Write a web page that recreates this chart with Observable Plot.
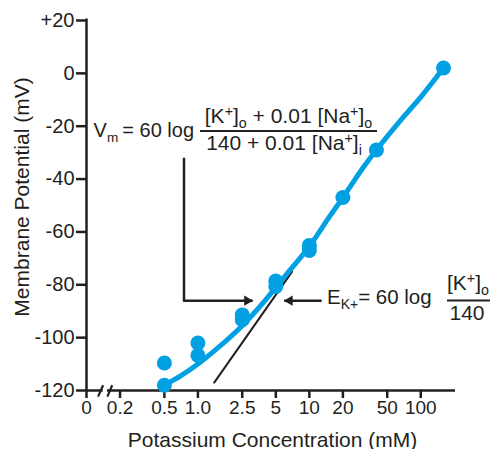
<!DOCTYPE html>
<html><head><meta charset="utf-8">
<script src="https://cdn.jsdelivr.net/npm/d3@7"></script>
<script src="https://cdn.jsdelivr.net/npm/@observablehq/plot@0.6"></script>
<style>
body{margin:0;background:#fff;}
svg text{font-family:"Liberation Sans",Arial,sans-serif;}
</style></head><body><div id="chart"></div>
<script>
// Measured points: potassium concentration (mM) and membrane potential (mV)
const obsK = [0.5, 0.5, 1, 1, 2.5, 2.5, 5, 5, 10, 10, 20, 40, 160];
const obsV = [-109.6, -118, -102, -106.7, -91.4, -93.2, -78.6, -80.6, -65.1, -67, -47, -29, 2];
// Goldman (fitted) curve
const fitK = [0.5, 0.7, 1, 1.5, 2.5, 4, 5, 7, 10, 15, 20, 30, 40, 70, 100, 160];
const fitV = [-118, -114.5, -110, -104, -95.5, -86, -81, -73.5, -65.5, -54.5, -47, -36, -29, -16.5, -9, 2];
// Nernst (E_K) line, visible part
const ekK = [1.4, 7];
const ekV = [-117, -75];
// Axis ticks
const xTicks = [0.1, 0.2, 0.5, 1, 2.5, 5, 10, 20, 50, 100];
const xTickLabels = ["0", "0.2", "0.5", "1.0", "2.5", "5", "10", "20", "50", "100"];
const yTicks = [20, 0, -20, -40, -60, -80, -100, -120];
const yTickLabels = ["+20", "0", "-20", "-40", "-60", "-80", "-100", "-120"];
// Annotation arrows (data units)
const vmArrowPath = [{k: 0.75, v: -32.3}, {k: 0.75, v: -86}];
const arrows = [{k1: 0.75, k2: 3.1, v: -86, dir: 1}, {k1: 12.9, k2: 5.95, v: -86, dir: -1}];
const breakMarks = [{k1: 0.127, k2: 0.141}, {k1: 0.154, k2: 0.170}];

const ink = "#231f20", blue = "#00a0e3";
const obs = obsK.map((k, i) => ({k, v: obsV[i]}));
const fit = fitK.map((k, i) => ({k, v: fitV[i]}));
const ek = ekK.map((k, i) => ({k, v: ekV[i]}));
const xTable = xTicks.map((k, i) => ({k, label: xTickLabels[i]}));
const yLab = d => yTickLabels[d3.minIndex(yTicks, t => Math.abs(t - d))];

const chart = Plot.plot({
  width: 492, height: 449,
  marginLeft: 86, marginRight: 37, marginTop: 20, marginBottom: 59,
  style: {fontFamily: '"Liberation Sans", Arial, sans-serif', color: ink, background: "white", overflow: "visible"},
  x: {type: "log", domain: [0.1, 205]},
  y: {domain: [-120, 20]},
  marks: [
    Plot.axisX(xTicks, {tickSize: 8, strokeWidth: 2.5, stroke: ink, tickFormat: () => "", label: null}),
    Plot.text(xTable, {x: "k", text: "label", frameAnchor: "bottom", dy: 23, fontSize: 19, fill: ink}),
    Plot.axisY(yTicks, {tickSize: 10, tickPadding: 2, strokeWidth: 2.5, fontSize: 20, fill: ink, stroke: ink,
      tickFormat: yLab, label: null}),
    Plot.ruleY([-120], {x1: 0.1, x2: 205, stroke: ink, strokeWidth: 2.5}),
    Plot.ruleX([0.1], {y1: -120, y2: 20.6, stroke: ink, strokeWidth: 2.5}),
    Plot.ruleY([-120], {x1: 0.141, x2: 0.154, stroke: "white", strokeWidth: 5}),
    Plot.link(breakMarks, {x1: "k1", x2: "k2", y1: -122.3, y2: -118, stroke: ink, strokeWidth: 2.2}),
    Plot.line(ek, {x: "k", y: "v", stroke: ink, strokeWidth: 2}),
    Plot.line(fit, {x: "k", y: "v", stroke: blue, strokeWidth: 5, curve: "catmull-rom"}),
    Plot.dot(obs, {x: "k", y: "v", r: 7.5, fill: blue}),
    Plot.line(vmArrowPath, {x: "k", y: "v", stroke: ink, strokeWidth: 2.5}),
    Plot.link(arrows, {x1: "k1", x2: "k2", y1: "v", y2: "v", stroke: ink, strokeWidth: 2.5}),
    Plot.dot(arrows.filter(a => a.dir > 0), {x: "k2", y: "v", symbol: "triangle", rotate: 90, r: 3.8, dx: -5.5, fill: ink, stroke: "none"}),
    Plot.dot(arrows.filter(a => a.dir < 0), {x: "k2", y: "v", symbol: "triangle", rotate: -90, r: 3.8, dx: 5.5, fill: ink, stroke: "none"})
  ]
});
document.getElementById("chart").appendChild(chart);

const svg = d3.select(chart);
const sx = chart.scale("x"), sy = chart.scale("y");
const g = svg.append("g").attr("fill", ink).attr("font-family", '"Liberation Sans", Arial, sans-serif');

// axis titles
g.append("text").attr("x", 272.5).attr("y", 446.5).attr("text-anchor", "middle").attr("font-size", 21)
  .text("Potassium Concentration (mM)");
g.append("text").attr("transform", "translate(28.5,197) rotate(-90)").attr("text-anchor", "middle").attr("font-size", 21)
  .text("Membrane Potential (mV)");

function rich(parent, x, y, parts, size, anchor) {
  const t = parent.append("text").attr("x", x).attr("y", y).attr("font-size", size).attr("text-anchor", anchor || "start");
  let shift = 0;
  for (const [s, kind] of parts) {
    const target = kind === "sub" ? 5 : kind === "sup" ? -7 : 0;
    t.append("tspan").attr("dy", target - shift).attr("font-size", kind ? size * 0.68 : size).text(s);
    shift = target;
  }
  return t;
}

// Vm equation
const vx = sx.apply(0.117), vy = sy.apply(-24.3);
rich(g, vx, vy, [["V"], ["m", "sub"], ["\u2009= 60 log"]], 20);
rich(g, 288.5, 123, [["[K"], ["+", "sup"], ["]"], ["o", "sub"], [" + 0.01 [Na"], ["+", "sup"], ["]"], ["o", "sub"]], 21, "middle");
g.append("line").attr("x1", 200).attr("x2", 377).attr("y1", 131).attr("y2", 131).attr("stroke", ink).attr("stroke-width", 2);
rich(g, 284, 149.5, [["140 + 0.01 [Na"], ["+", "sup"], ["]"], ["i", "sub"]], 21, "middle");

// E_K equation
rich(g, 327, 304, [["E"], ["K+", "sub"], ["= 60 log"]], 20.5);
rich(g, 468, 290, [["[K"], ["+", "sup"], ["]"], ["o", "sub"]], 21, "middle");
g.append("line").attr("x1", 447).attr("x2", 490).attr("y1", 300.5).attr("y2", 300.5).attr("stroke", ink).attr("stroke-width", 2);
rich(g, 467, 320, [["140"]], 21, "middle");
</script></body></html>
